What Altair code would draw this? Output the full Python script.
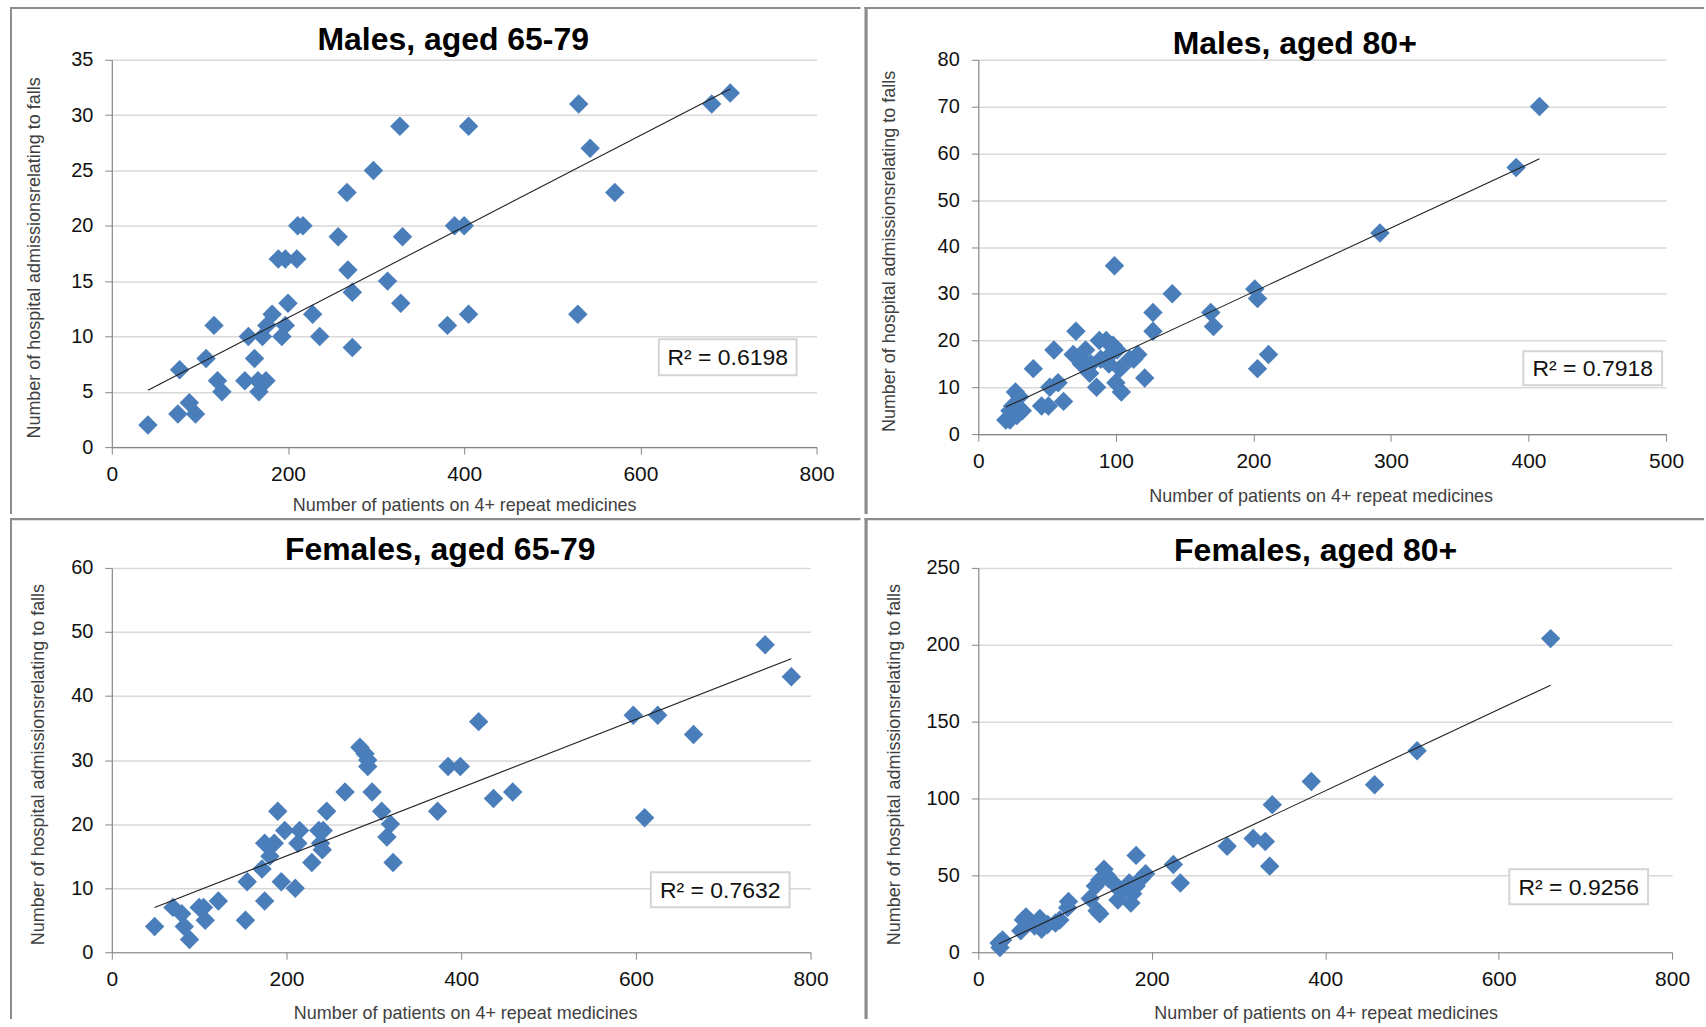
import altair as alt
import pandas as pd

# ---------------- data ----------------
titles = ["Males, aged 65-79", "Males, aged 80+", "Females, aged 65-79", "Females, aged 80+"]
r2_labels = ["R² = 0.6198", "R² = 0.7918", "R² = 0.7632", "R² = 0.9256"]
x_title = "Number of patients on 4+ repeat medicines"
y_title = "Number of hospital admissionsrelating to falls"

m6579_x = [41, 75, 95, 88, 77, 107, 116, 120, 125, 151, 155, 162, 166, 167, 175, 171, 176, 182,
           193, 197, 200, 189, 197, 210, 211, 217, 228, 236, 257, 267, 268, 273, 273, 297, 313,
           327, 328, 330, 381, 389, 400, 405, 405, 530, 529, 543, 571, 681, 702]
m6579_y = [2, 3, 3, 4, 7, 8, 11, 6, 5, 6, 10, 8, 6, 5, 6, 10, 11, 12,
           10, 11, 13, 17, 17, 17, 20, 20, 12, 10, 19, 23, 16, 14, 9, 25, 15,
           29, 13, 19, 11, 20, 20, 29, 12, 31, 12, 27, 23, 31, 32]

m80_x = [408, 391, 292, 99, 141, 201, 203, 169, 171, 127, 127, 211, 203, 71, 121, 55, 40,
         69, 74, 78, 75, 81, 86, 88, 93, 98, 96, 101, 103, 100, 104, 110, 116, 113, 95, 89, 82,
         58, 52, 62, 46, 51, 27, 30, 23, 32, 20, 23, 28, 25]
m80_y = [70, 57, 43, 36, 30, 31, 29, 26, 23, 26, 22, 17, 14, 22, 12, 18, 14,
         17, 16, 18, 15, 13, 10, 20, 20, 19, 17, 18, 14, 11, 9, 16, 17, 16, 15, 16, 15,
         11, 10, 7, 6, 6, 9, 8, 5, 5, 3, 3, 4, 6]

f6579_x = [748, 778, 597, 625, 666, 610, 420, 385, 399, 437, 459, 373, 284, 290, 293, 293,
           267, 298, 309, 319, 315, 322, 246, 242, 237, 239, 241, 229, 215, 213, 198, 190,
           186, 175, 181, 172, 155, 175, 194, 210, 153, 122, 105, 100, 107, 70, 80, 83, 89, 49]
f6579_y = [48, 43, 37, 37, 34, 21, 36, 29, 29, 24, 25, 22, 32, 31, 30, 29,
           25, 25, 22, 20, 18, 14, 22, 19, 19, 17, 16, 14, 19, 17, 19, 22,
           17, 17, 15, 13, 11, 8, 11, 10, 5, 8, 7, 7, 5, 7, 6, 4, 2, 4]

f80_x = [660, 506, 384, 457, 339, 317, 331, 287, 336, 225, 233, 182,
         145, 148, 140, 135, 156, 164, 161, 176, 174, 182, 188, 193, 169, 129, 137, 140, 150, 178,
         104, 103, 94, 89, 71, 73, 55, 52, 49, 28, 24, 25, 60, 80, 65]
f80_y = [204, 131, 111, 109, 96, 74, 72, 69, 56, 57, 45, 63,
         54, 50, 47, 43, 45, 40, 34, 32, 45, 43, 48, 51, 41, 35, 27, 25, 48, 38,
         33, 29, 21, 19, 22, 15, 23, 21, 14, 8, 6, 3, 20, 18, 17]

series_x = [m6579_x, m80_x, f6579_x, f80_x]
series_y = [m6579_y, m80_y, f6579_y, f80_y]
x_ticks = [[0, 200, 400, 600, 800], [0, 100, 200, 300, 400, 500],
           [0, 200, 400, 600, 800], [0, 200, 400, 600, 800]]
y_ticks = [[0, 5, 10, 15, 20, 25, 30, 35], [0, 10, 20, 30, 40, 50, 60, 70, 80],
           [0, 10, 20, 30, 40, 50, 60], [0, 50, 100, 150, 200, 250]]

# ---------------- layout / style (pixels, relative to each plot area) ----------------
layout = [
    dict(w=706, h=388, cell=(-102, 750, -53, 455), top_w=2, left_w=2,
         title=(342, -10), ytx=-77, xtx=353, xty=63, box=(548, 686, 280, 316)),
    dict(w=689, h=375, cell=(-114, 727, -53, 455), top_w=2, left_w=3.2,
         title=(317, -6), ytx=-89, xtx=343, xty=67, box=(546, 685, 292, 326)),
    dict(w=700, h=385, cell=(-102, 750, -50, 452), top_w=2.2, left_w=2,
         title=(329, -8), ytx=-73, xtx=354, xty=66, box=(540, 679, 305, 340)),
    dict(w=695, h=385, cell=(-114, 727, -50, 452), top_w=2.2, left_w=3.2,
         title=(338, -7), ytx=-84, xtx=348, xty=66, box=(532, 671, 302, 337)),
]

FONT = "Liberation Sans"
BLUE = "#4a7ebb"
BORDER = "#8c8c8c"
AXIS = "#868686"
one = pd.DataFrame({"k": [0]})


def panel(i):
    lay = layout[i]
    w, h = lay["w"], lay["h"]
    cx0, cx1, cy0, cy1 = lay["cell"]
    df = pd.DataFrame({"x": series_x[i], "y": series_y[i]})
    xt, yt = x_ticks[i], y_ticks[i]

    x_enc = alt.X("x:Q",
                  scale=alt.Scale(domain=[xt[0], xt[-1]], nice=False),
                  axis=alt.Axis(values=xt, title=x_title, grid=False, format="d",
                                domainColor=AXIS, domainWidth=1.2, tickColor=AXIS, tickSize=7,
                                labelFont=FONT, labelFontSize=21, labelColor="#111",
                                labelPadding=9, labelFlush=False, labelOverlap=False,
                                titleFont=FONT, titleFontSize=18, titleFontWeight="normal",
                                titleColor="#404040", titleX=lay["xtx"], titleY=lay["xty"],
                                titleBaseline="alphabetic", titleAlign="center"))
    y_enc = alt.Y("y:Q",
                  scale=alt.Scale(domain=[yt[0], yt[-1]], nice=False),
                  axis=alt.Axis(values=yt, title=y_title, grid=True, format="d",
                                gridColor="#d9d9d9", gridWidth=1.5,
                                domainColor=AXIS, domainWidth=1.2, tickColor=AXIS, tickSize=7,
                                labelFont=FONT, labelFontSize=20, labelColor="#111",
                                labelPadding=12, labelOverlap=False,
                                titleFont=FONT, titleFontSize=18, titleFontWeight="normal",
                                titleColor="#404040", titleAngle=270,
                                titleX=lay["ytx"], titleY=h / 2 + 4,
                                titleBaseline="middle", titleAlign="center"))

    cell = alt.Chart(one).mark_rect(opacity=0).encode(
        x=alt.value(cx0), x2=alt.value(cx1), y=alt.value(cy0), y2=alt.value(cy1))
    top_line = alt.Chart(one).mark_rule(color=BORDER, strokeWidth=lay["top_w"]).encode(
        x=alt.value(cx0), x2=alt.value(cx1), y=alt.value(cy0 + lay["top_w"] / 2))
    left_line = alt.Chart(one).mark_rule(color=BORDER, strokeWidth=lay["left_w"]).encode(
        x=alt.value(cx0 + lay["left_w"] / 2), y=alt.value(cy0), y2=alt.value(cy1))

    points = alt.Chart(df).mark_point(shape="diamond", filled=True, size=380,
                                      color=BLUE, opacity=1).encode(x=x_enc, y=y_enc)
    trend = alt.Chart(df).transform_regression("x", "y").mark_line(
        color="#222222", strokeWidth=1.1).encode(x=x_enc, y=y_enc)

    bx0, bx1, by0, by1 = lay["box"]
    r2_box = alt.Chart(one).mark_rect(fill="white", stroke="#d4d4d4", strokeWidth=2).encode(
        x=alt.value(bx0), x2=alt.value(bx1), y=alt.value(by0), y2=alt.value(by1))
    r2_text = alt.Chart(one).mark_text(font=FONT, fontSize=23, color="#111",
                                       align="center", baseline="middle").encode(
        x=alt.value((bx0 + bx1) / 2), y=alt.value((by0 + by1) / 2 + 1),
        text=alt.value(r2_labels[i]))
    tx, ty = lay["title"]
    title = alt.Chart(one).mark_text(font=FONT, fontSize=32, fontWeight="bold", color="#000",
                                     align="center", baseline="alphabetic").encode(
        x=alt.value(tx), y=alt.value(ty), text=alt.value(titles[i]))

    return alt.layer(cell, top_line, left_line, points, trend, r2_box, r2_text, title
                     ).properties(width=w, height=h)


chart = alt.ConcatChart(
    concat=[panel(0), panel(1), panel(2), panel(3)],
    columns=2, spacing=0, align="each", bounds="full",
).properties(
    padding={"left": 8, "top": 4, "right": 0, "bottom": 0},
    background="white",
).configure_view(strokeWidth=0)

chart.save("out.html", embed_options={"renderer": "svg", "actions": False})
